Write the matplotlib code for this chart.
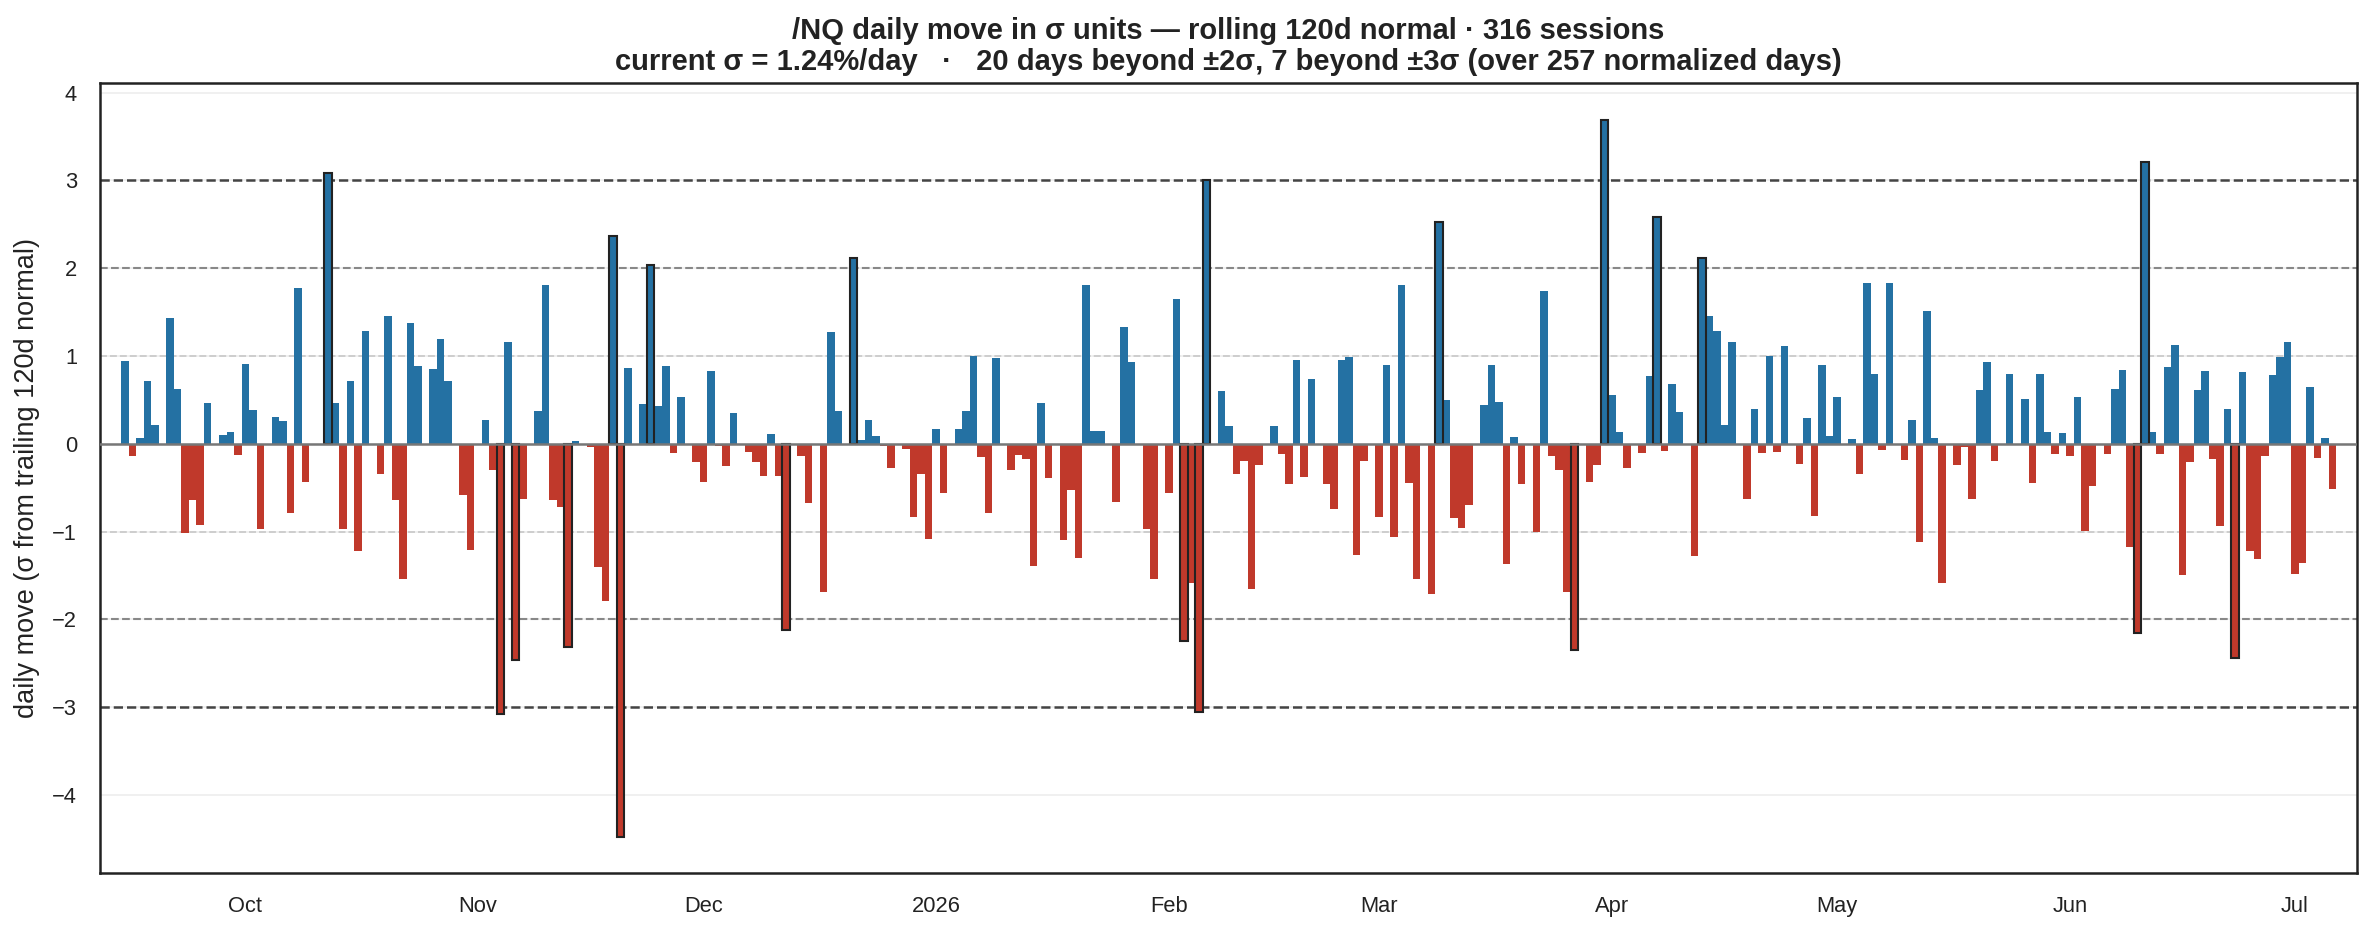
import datetime as dt
import numpy as np
import matplotlib
matplotlib.use("Agg")
import matplotlib.pyplot as plt
import matplotlib.dates as mdates

plt.rcParams['font.family'] = ['Liberation Sans', 'DejaVu Sans']

# ---- data: daily move in sigma units, one entry per calendar day (None = no session) ----
sep_start = dt.date(2025, 9, 15)
sep_vals = [0.94, -0.14, 0.07, 0.71, 0.21, None, 1.43, 0.62, -1.02, -0.64, -0.93, 0.46, None, 0.10, 0.13, -0.13]
oct_vals = [0.91, 0.39, -0.97, None, 0.31, 0.26, -0.79, 1.77, -0.44, None, None, 3.09, 0.47, -0.97, 0.72, -1.22,
            1.28, None, -0.34, 1.45, -0.64, -1.54, 1.38, 0.89, None, 0.85, 1.19, 0.71, None, -0.58, -1.21]
nov_vals = [None, 0.27, -0.30, -3.08, 1.16, -2.46, -0.63, None, 0.37, 1.81, -0.64, -0.72, -2.31, 0.03, None,
            -0.04, -1.40, -1.79, 2.37, -4.48, 0.86, None, 0.45, 2.04, 0.43, 0.89, -0.10, 0.53, None, -0.21]
dec_vals = [-0.44, 0.83, -0.03, -0.25, 0.35, None, -0.09, -0.21, -0.37, 0.11, -0.37, -2.12, None, -0.14, -0.68,
            None, -1.69, 1.27, 0.37, None, 2.12, 0.04, 0.27, 0.09, -0.03, -0.28, None, -0.06, -0.83, -0.35, -1.09]
jan_vals = [0.17, -0.56, None, 0.17, 0.37, 1.00, -0.15, -0.79, 0.98, None, -0.30, -0.13, -0.17, -1.39, 0.47,
            -0.39, None, -1.10, -0.53, -1.30, 1.81, 0.15, 0.15, None, -0.66, 1.33, 0.93, None, -0.97, -1.54, None]
feb_vals = [-0.56, 1.65, -2.25, -1.59, -3.06, 3.00, None, 0.60, 0.20, -0.34, -0.20, -1.65, -0.24, None, 0.20,
            -0.12, -0.46, 0.95, -0.38, 0.74, None, -0.46, -0.74, 0.95, 0.99, -1.27, -0.20, None]
mar_vals = [-0.83, 0.90, -1.06, 1.81, -0.45, -1.54, None, -1.71, 2.53, 0.50, -0.84, -0.96, -0.70, None, 0.44,
            0.90, 0.48, -1.37, 0.08, -0.46, None, -1.00, 1.74, -0.14, -0.30, -1.69, -2.35, None, -0.44, -0.24, 3.69]
apr_vals = [0.55, 0.13, -0.28, None, -0.10, 0.77, 2.58, -0.08, 0.68, 0.36, None, -1.28, 2.12, 1.46, 1.28,
            0.21, 1.16, None, -0.63, 0.40, -0.10, 1.00, -0.09, 1.11, None, -0.23, 0.29, -0.82, 0.90, 0.09]
may_vals = [0.53, None, 0.06, -0.34, 1.83, 0.80, -0.07, 1.83, None, -0.19, 0.27, -1.12, 1.51, 0.07, -1.59,
            None, -0.24, -0.04, -0.63, 0.61, 0.93, -0.20, None, 0.80, None, 0.51, -0.45, 0.79, 0.13, -0.12, 0.12]
jun_vals = [-0.14, 0.53, -0.99, -0.48, None, -0.12, 0.62, 0.84, -1.18, -2.16, 3.21, 0.13, -0.12, 0.88, 1.12,
            -1.49, -0.21, 0.61, 0.83, -0.17, -0.94, 0.40, -2.44, 0.82, -1.22, -1.31, -0.14, 0.78, 0.99, 1.16]
jul_vals = [-1.48, -1.36, 0.65, -0.16, 0.07, -0.52]

month_ticks = ["2025-10-01", "2025-11-01", "2025-12-01", "2026-01-01", "2026-02-01", "2026-03-01",
               "2026-04-01", "2026-05-01", "2026-06-01", "2026-07-01"]
month_labels = ["Oct", "Nov", "Dec", "2026", "Feb", "Mar", "Apr", "May", "Jun", "Jul"]

title_text = ("/NQ daily move in σ units — rolling 120d normal · 316 sessions\n"
              "current σ = 1.24%/day   ·   20 days beyond ±2σ, 7 beyond ±3σ (over 257 normalized days)")

# ---- assemble ----
all_vals = sep_vals + oct_vals + nov_vals + dec_vals + jan_vals + feb_vals + mar_vals + apr_vals + \
    may_vals + jun_vals + jul_vals
dates, vals = [], []
for i, v in enumerate(all_vals):
    if v is None:
        continue
    dates.append(sep_start + dt.timedelta(days=i))
    vals.append(v)
vals = np.array(vals)
xd = mdates.date2num(dates)

BLUE = "#2471A3"
RED = "#C0392B"
colors = np.array([BLUE if v >= 0 else RED for v in vals])
extreme = np.abs(vals) >= 2

fig = plt.figure(figsize=(2374 / 150, 934 / 150), dpi=150)
ax = fig.add_axes([100 / 2374, 61 / 934, 2257 / 2374, 790 / 934])

ax.set_axisbelow(True)
ax.grid(axis='y', color='#eeeeee', lw=0.8)
ax.grid(axis='x', visible=False)
for y in (1, -1):
    ax.axhline(y, color='#cccccc', ls='--', lw=0.9, zorder=1)
for y in (2, -2):
    ax.axhline(y, color='#888888', ls='--', lw=1.0, zorder=1)
for y in (3, -3):
    ax.axhline(y, color='#444444', ls='--', lw=1.2, zorder=1)

ax.bar(xd[~extreme], vals[~extreme], width=1.0, color=colors[~extreme],
       linewidth=0, zorder=2)
ax.bar(xd[extreme], vals[extreme], width=1.0, color=colors[extreme],
       edgecolor='#222222', linewidth=1.0, zorder=3)
ax.axhline(0, color='#777777', lw=1.2, zorder=4)

x0 = mdates.date2num(dt.date(2025, 10, 1))
ax.set_xlim(x0 - 19.35, x0 + 281.25)
ax.set_ylim(-4.89, 4.11)
ax.set_yticks(np.arange(-4, 5, 1))
ax.set_xticks(mdates.date2num([dt.date.fromisoformat(s) for s in month_ticks]))
ax.set_xticklabels(month_labels)
ax.tick_params(axis='both', length=0, labelsize=10.5, colors='#222222', pad=11)

for s in ax.spines.values():
    s.set_color('#222222')
    s.set_linewidth(1.2)

ax.set_ylabel("daily move (σ from trailing 120d normal)", fontsize=13, color='#222222', labelpad=6)
ax.set_title(title_text, fontsize=14, fontweight='bold', color='#222222', pad=6, linespacing=1.15)

fig.savefig("out.png", dpi=150, facecolor='white')
